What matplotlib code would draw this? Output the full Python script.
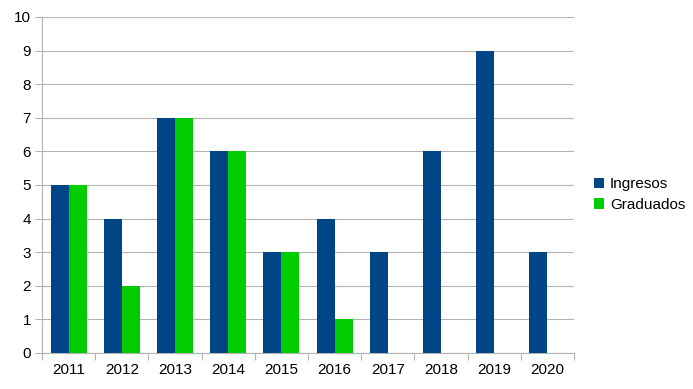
import matplotlib
matplotlib.use("Agg")
import matplotlib.pyplot as plt
import numpy as np

years = ["2011", "2012", "2013", "2014", "2015", "2016", "2017", "2018", "2019", "2020"]
ingresos = [5, 4, 7, 6, 3, 4, 3, 6, 9, 3]
graduados = [5, 2, 7, 6, 3, 1, 0, 0, 0, 0]

plt.rcParams['font.family'] = ['Liberation Sans', 'DejaVu Sans']

fig = plt.figure(figsize=(6.93, 3.89), dpi=100)
ax = fig.add_axes([42/693, 36/389, (574-42)/693, (353-17)/389])

x = np.arange(len(years))
w = 0.34
ax.bar(x - w/2, ingresos, width=w, color="#004586", label="Ingresos", zorder=3)
ax.bar(x + w/2, graduados, width=w, color="#00cc00", label="Graduados", zorder=3)

ax.set_xlim(-0.5, len(years) - 0.5)
ax.set_ylim(0, 10)
ax.set_yticks(range(0, 11))
ax.yaxis.grid(True, color="#b3b3b3", linewidth=0.8, zorder=0)
ax.set_xticks(x)
ax.set_xticklabels(years)
ax.set_xticks(np.arange(-0.5, len(years)), minor=True)
ax.tick_params(axis='x', which='major', length=0, pad=7, labelsize=11)
ax.tick_params(axis='x', which='minor', length=5, color="#b3b3b3", width=0.8)
ax.tick_params(axis='y', length=5, color="#b3b3b3", width=0.8, labelsize=11, pad=3)

for s in ["top", "right"]:
    ax.spines[s].set_visible(False)
for s in ["left", "bottom"]:
    ax.spines[s].set_color("#b3b3b3")
    ax.spines[s].set_linewidth(0.8)

fig.legend(loc="center left", bbox_to_anchor=(580/693, 0.50), frameon=False,
           handlelength=0.65, handleheight=0.65, handletextpad=0.4, fontsize=11,
           labelspacing=0.45)

fig.savefig("out.png", dpi=100)
